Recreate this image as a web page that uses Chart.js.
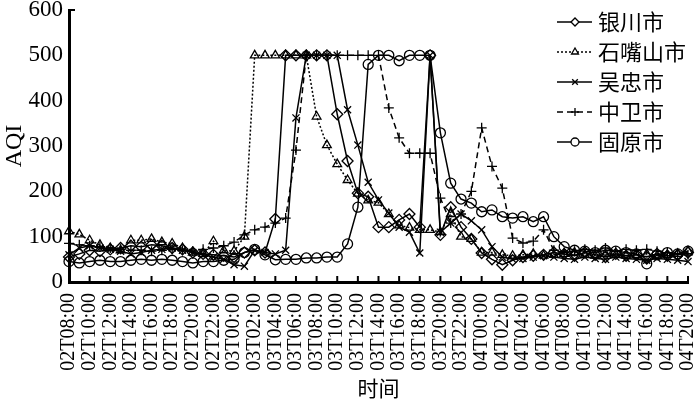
<!DOCTYPE html>
<html>
<head>
<meta charset="utf-8">
<script src="https://cdn.jsdelivr.net/npm/chart.js@4.4.1/dist/chart.umd.min.js"></script>
<style>
    html, body { margin: 0; padding: 0; background: #fff; }
    #wrap { width: 700px; height: 407px; }
</style>
</head>
<body>
<div id="wrap"><canvas id="aqiChart"></canvas></div>
<script>
// Hourly categories 02T08:00 .. 04T20:00
const days = ['02', '03', '04'];
const categories = [];
days.forEach(function (d) {
    for (let h = 0; h < 24; h++) {
        if (d === '02' && h < 8) continue;
        if (d === '04' && h > 20) break;
        categories.push(d + 'T' + String(h).padStart(2, '0') + ':00');
    }
});

const seriesNames = ['银川市', '石嘴山市', '吴忠市', '中卫市', '固原市'];

const yinchuan = [55, 62, 70, 68, 72, 75, 80, 78, 82, 80, 75, 72, 65, 62, 60, 58,
    55, 65, 70, 65, 139, 500, 500, 500, 500, 500, 370, 267, 196, 188, 121, 121,
    137, 150, 121, 500, 104, 165, 121, 95, 64, 50, 38, 48, 55, 58, 60, 65,
    62, 58, 65, 60, 55, 62, 58, 60, 55, 62, 58, 60, 65];

const shizuishan = [112, 105, 92, 82, 75, 70, 92, 92, 95, 88, 85, 75, 65, 62, 90, 70,
    68, 100, 500, 500, 500, 500, 500, 500, 365, 302, 260, 225, 195, 180, 175, 150,
    125, 120, 115, 115, 110, 150, 100, 95, 65, 65, 60, 58, 60, 62, 58, 60,
    62, 65, 60, 58, 62, 60, 58, 60, 62, 58, 60, 62, 68];

const wuzhong = [60, 75, 80, 75, 72, 68, 62, 65, 70, 72, 75, 70, 65, 60, 55, 50,
    38, 35, 70, 65, 62, 70, 362, 500, 500, 500, 500, 380, 302, 220, 181, 152,
    121, 110, 64, 500, 110, 130, 150, 135, 115, 78, 55, 50, 52, 55, 58, 55,
    52, 50, 55, 52, 50, 55, 52, 50, 48, 52, 50, 48, 45];

const zhongwei = [85, 82, 80, 78, 75, 72, 70, 70, 68, 70, 72, 70, 68, 72, 75, 80,
    88, 104, 115, 121, 130, 141, 291, 500, 500, 500, 500, 500, 500, 500, 500, 384,
    318, 284, 284, 284, 185, 130, 150, 200, 340, 255, 207, 97, 86, 90, 115, 70,
    65, 68, 72, 70, 75, 68, 72, 70, 72, 68, 65, 62, 60];

const guyuan = [45, 42, 45, 48, 45, 45, 48, 50, 48, 50, 48, 45, 42, 45, 45, 48,
    50, 65, 72, 60, 49, 50, 50, 53, 53, 55, 55, 84, 165, 480, 500, 500,
    488, 500, 500, 500, 329, 218, 183, 174, 155, 159, 144, 141, 144, 133, 144, 100,
    78, 70, 68, 65, 70, 68, 65, 62, 40, 60, 65, 62, 68];

const yTicks = [0, 100, 200, 300, 400, 500, 600];

const serif = 'Liberation Serif';
const cjk = 'Noto Sans CJK SC';

function makeSet(label, data, pointStyle, dash, radius) {
    return {
        label: label,
        data: data,
        borderColor: '#000',
        borderWidth: 1.5,
        borderDash: dash,
        backgroundColor: 'rgba(0,0,0,0)',
        pointStyle: pointStyle,
        pointRadius: radius,
        pointBorderWidth: 1.3,
        pointBorderColor: '#000',
        pointBackgroundColor: 'rgba(0,0,0,0)',
        tension: 0,
        fill: false
    };
}

// small inward tick marks on the x axis, one every 2 hours
const innerTicks = {
    id: 'innerTicks',
    afterDraw(chart) {
        const xs = chart.scales.x;
        const ctx = chart.ctx;
        const bottom = chart.chartArea.bottom;
        ctx.save();
        ctx.strokeStyle = '#000';
        ctx.lineWidth = 2;
        for (let i = 0; i < categories.length; i += 2) {
            const px = xs.getPixelForValue(i);
            ctx.beginPath();
            ctx.moveTo(px, bottom);
            ctx.lineTo(px, bottom - 6);
            ctx.stroke();
        }
        // short tick at the top of the y axis
        ctx.beginPath();
        ctx.moveTo(chart.chartArea.left, chart.chartArea.top);
        ctx.lineTo(chart.chartArea.left + 6, chart.chartArea.top);
        ctx.stroke();
        ctx.restore();
    }
};

// legend drawn inside the plot, top right
const cornerLegend = {
    id: 'cornerLegend',
    afterDraw(chart) {
        const ctx = chart.ctx;
        chart.data.datasets.forEach(function (ds, i) {
            const y = 22 + i * 30;
            ctx.save();
            ctx.strokeStyle = '#000';
            ctx.lineWidth = 1.5;
            ctx.setLineDash(ds.borderDash || []);
            ctx.beginPath();
            ctx.moveTo(557, y);
            ctx.lineTo(592, y);
            ctx.stroke();
            ctx.setLineDash([]);
            ctx.fillStyle = '#fff';
            ctx.lineWidth = 1.3;
            Chart.helpers.drawPoint(ctx, { pointStyle: ds.pointStyle, radius: 4, borderWidth: 1.3, rotation: 0 }, 575, y);
            ctx.fillStyle = '#000';
            ctx.font = '22px "' + cjk + '"';
            ctx.textBaseline = 'middle';
            ctx.textAlign = 'left';
            ctx.fillText(ds.label, 598, y);
            ctx.restore();
        });
    }
};

const chart = new Chart(document.getElementById('aqiChart'), {
    type: 'line',
    data: {
        labels: categories,
        datasets: [
            makeSet(seriesNames[0], yinchuan, 'rectRot', [], 5.5),
            makeSet(seriesNames[1], shizuishan, 'triangle', [2, 2], 5),
            makeSet(seriesNames[2], wuzhong, 'crossRot', [], 5),
            makeSet(seriesNames[3], zhongwei, 'cross', [6, 4], 5),
            makeSet(seriesNames[4], guyuan, 'circle', [], 5)
        ]
    },
    options: {
        responsive: true,
        maintainAspectRatio: false,
        animation: false,
        layout: { padding: { top: 10, right: 12, left: 0, bottom: 2 } },
        plugins: {
            legend: { display: false },
            tooltip: { enabled: false }
        },
        scales: {
            x: {
                type: 'category',
                offset: false,
                grid: { display: false },
                border: { color: '#000', width: 3 },
                ticks: {
                    autoSkip: false,
                    maxRotation: 90,
                    minRotation: 90,
                    padding: 3,
                    color: '#000',
                    font: { family: serif, size: 20 },
                    callback: function (v, i) {
                        return i % 2 === 0 ? this.getLabelForValue(v) : null;
                    }
                },
                title: {
                    display: true,
                    text: '时间',
                    color: '#000',
                    padding: { top: 0, bottom: 4 },
                    font: { family: cjk, size: 21 }
                },
                afterFit: function (scale) {
                    scale.height = 123;
                    scale.paddingLeft = 0;
                    scale.paddingRight = 0;
                }
            },
            y: {
                min: 0,
                max: 600,
                afterBuildTicks: function (scale) {
                    scale.ticks = yTicks.map(function (v) { return { value: v }; });
                },
                grid: { display: false, drawTicks: false },
                border: { color: '#000', width: 3 },
                ticks: {
                    padding: 6,
                    color: '#000',
                    font: { family: serif, size: 23 }
                },
                title: {
                    display: true,
                    text: 'AQI',
                    color: '#000',
                    padding: 0,
                    font: { family: serif, size: 24 }
                },
                afterFit: function (scale) {
                    scale.width = 69;
                    scale.paddingTop = 0;
                    scale.paddingBottom = 0;
                }
            }
        }
    },
    plugins: [innerTicks, cornerLegend]
});
</script>
</body>
</html>
